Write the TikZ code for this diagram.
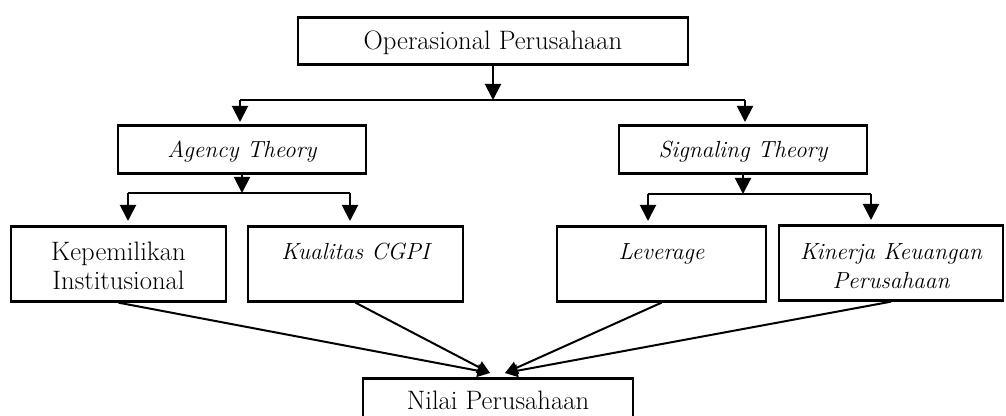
\documentclass[tikz,border=0pt]{standalone}
\usetikzlibrary{arrows.meta,positioning}
\newcommand{\diagfont}{\fontsize{20}{21.75}\selectfont}
\newcommand{\diagit}{\fontsize{17.5}{21.75}\selectfont\itshape}

\begin{document}
\begin{tikzpicture}[
    x=0.75pt, y=-0.75pt,
    box/.style={
      draw, line width=2pt, inner sep=0pt, anchor=north,
      align=center, font=\diagfont
    },
    topbox/.style={box, minimum width=292.5pt,
                   text height=24pt, text depth=11.25pt},
    theorybox/.style={box, minimum width=186pt, font=\diagit,
                      text height=24pt, text depth=12pt},
    varbox/.style={box, text height=24.75pt, text depth=31.5pt},
    twoline/.style={text height=47.25pt, text depth=9pt},
    itbox/.style={varbox, font=\diagit},
    arr/.style={-{Triangle[length=12pt,width=12pt]}, line width=1.5pt},
    inarr/.style={-{Triangle[length=9.5pt,width=9.5pt]}, line width=1.5pt},
    link/.style={line width=1pt},
  ]
  \useasboundingbox (0,0) rectangle (1006,416);

  % Boxes
  \node[topbox] (ops) at (493,16) {Operasional Perusahaan};
  \node[theorybox] (agency) at (242,124) {Agency Theory};
  \node[theorybox] (signal) at (743,124) {Signaling Theory};

  \node[varbox, twoline, minimum width=161.25pt] (kep) at (118.5,225)
    {Kepemilikan\\Institusional};
  \node[itbox, minimum width=161.25pt] (kual) at (355.5,225)
    {Kualitas CGPI};
  \node[itbox, minimum width=156.75pt] (lev) at (661.5,225)
    {Leverage};
  \node[itbox, twoline, minimum width=168pt] (kin) at (891,224)
    {Kinerja Keuangan\\Perusahaan};

  \node[box, minimum width=202.5pt, text height=23.25pt, text depth=12pt]
    (nilai) at (498,377) {Nilai Perusahaan};

  % Junctions
  \coordinate (j0) at (493,100);
  \coordinate (j0L) at (240,100);
  \coordinate (j0R) at (745,100);
  \coordinate (ja) at (242,193);
  \coordinate (jaL) at (128,193);
  \coordinate (jaR) at (350,193);
  \coordinate (js) at (743,194);
  \coordinate (jsL) at (648,194);
  \coordinate (jsR) at (871,194);
  \coordinate (inL) at (490,373);
  \coordinate (inR) at (505,373);

  % Top split
  \draw[arr] (ops) -- (j0);
  \draw[link] (j0L) -- (j0R);
  \draw[arr, shorten >=1.5pt] (j0L) -- (agency.north -| j0L);
  \draw[arr, shorten >=1.5pt] (j0R) -- (signal.north -| j0R);

  % Agency split
  \draw[arr] (agency) -- (ja);
  \draw[link] (jaL) -- (jaR);
  \foreach \j/\b in {jaL/kep, jaR/kual}
    \draw[arr, shorten >=3pt] (\j) -- (\b.north -| \j);

  % Signaling split
  \draw[arr] (signal) -- (js);
  \draw[link] (jsL) -- (jsR);
  \foreach \j/\b in {jsL/lev, jsR/kin}
    \draw[arr, shorten >=3pt] (\j) -- (\b.north -| \j);

  % Into Nilai Perusahaan
  \draw[inarr] (kep.south) -- (inL);
  \draw[inarr] (kual.south) -- (inL);
  \draw[inarr] (lev.south) -- (inR);
  \draw[inarr] (kin.south) -- (inR);

\end{tikzpicture}
\end{document}
